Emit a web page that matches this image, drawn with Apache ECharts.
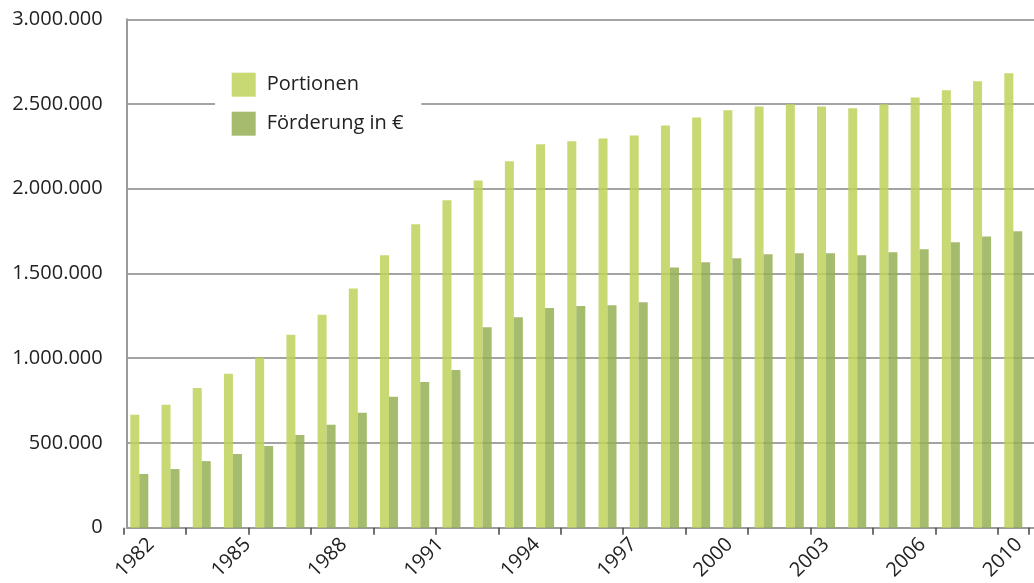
<!DOCTYPE html>
<html><head><meta charset="utf-8">
<script src="https://cdn.jsdelivr.net/npm/echarts@6/dist/echarts.min.js"></script>
<style>html,body{margin:0;padding:0;background:#fff}#c{width:1034px;height:583px}</style>
</head><body><div id="c"></div>
<script>
const years = ['1982','1983','1984','1985','1986','1987','1988','1989','1990','1991','1992','1993','1994','1995','1996','1997','1998','1999','2000','2001','2002','2003','2004','2005','2006','2007','2008','2009','2010'];
const tickLabels = ['1982','1985','1988','1991','1994','1997','2000','2003','2006','2010'];
const portionen = [666000,725000,825000,908000,1005000,1139000,1257000,1411000,1608000,1791000,1932000,2049000,2162000,2262000,2280000,2297000,2315000,2374000,2421000,2463000,2486000,2498000,2486000,2475000,2498000,2539000,2581000,2634000,2681000];
const foerderung = [317000,346000,393000,435000,482000,547000,607000,678000,772000,860000,930000,1183000,1242000,1297000,1308000,1313000,1330000,1536000,1567000,1590000,1614000,1620000,1620000,1608000,1626000,1643000,1684000,1719000,1749000];
const seriesNames = ['Portionen','Förderung in €'];

const FONT = '"Open Sans", "Noto Sans", sans-serif';
const fmt = v => String(v).replace(/\B(?=(\d{3})+(?!\d))/g, '.');
const chart = echarts.init(document.getElementById('c'), null, {renderer:'canvas'});
const TOP = 19.3, BOTTOM = 55.3;
chart.setOption({
  animation: false,
  backgroundColor: '#fff',
  legend: {
    data: seriesNames, orient: 'vertical', left: 215, top: 60.7,
    itemWidth: 24, itemHeight: 24, itemGap: 15, icon: 'rect',
    padding: [12, 18, 12, 16.7], backgroundColor: '#fff',
    textStyle: {fontFamily: FONT, fontSize: 20, color: '#222', padding: [0,0,0,6]}
  },
  grid: [
    {left: 123.7, right: 5.1, top: TOP, bottom: BOTTOM},
    {left: 126.7, right: 0, top: TOP, bottom: BOTTOM},
    {left: 151, right: 15, top: TOP, bottom: BOTTOM}
  ],
  xAxis: [
    {gridIndex: 0, type: 'category', data: years, boundaryGap: true,
     axisLine: {show: false}, axisLabel: {show: false},
     axisTick: {show: true, length: 7, lineStyle: {color: '#444', width: 1.5}},
     splitLine: {show: false}},
    {gridIndex: 1, type: 'value', min: 0, max: 1,
     axisLine: {show: true, lineStyle: {color: '#9b9b9b', width: 2}},
     axisTick: {show: false}, axisLabel: {show: false}, splitLine: {show: false}},
    {gridIndex: 2, type: 'category', data: tickLabels, boundaryGap: false,
     axisLine: {show: false}, axisTick: {show: false}, splitLine: {show: false},
     axisLabel: {interval: 0, rotate: 45, margin: 25, fontFamily: FONT, fontSize: 20, color: '#222'}}
  ],
  yAxis: [
    {gridIndex: 0, type: 'value', min: 0, max: 3000000, interval: 500000,
     axisLine: {show: false}, axisTick: {show: false}, axisLabel: {show: false}, splitLine: {show: false}},
    {gridIndex: 1, type: 'value', min: 0, max: 3000000, interval: 500000,
     axisLine: {show: true, lineStyle: {color: '#9b9b9b', width: 2}},
     axisTick: {show: false},
     axisLabel: {margin: 24, fontFamily: FONT, fontSize: 20, color: '#222', padding: [4,0,0,0], formatter: fmt},
     splitLine: {show: true, lineStyle: {color: '#a3a3a3', width: 2}}},
    {gridIndex: 2, type: 'value', show: false}
  ],
  series: [
    {name: seriesNames[0], type: 'bar', xAxisIndex: 0, yAxisIndex: 0, data: portionen,
     barWidth: 9, barGap: '0%', itemStyle: {color: 'rgba(190,209,90,0.85)'}},
    {name: seriesNames[1], type: 'bar', xAxisIndex: 0, yAxisIndex: 0, data: foerderung,
     barWidth: 9, barGap: '0%', itemStyle: {color: 'rgba(149,175,83,0.85)'}}
  ]
});
</script></body></html>
